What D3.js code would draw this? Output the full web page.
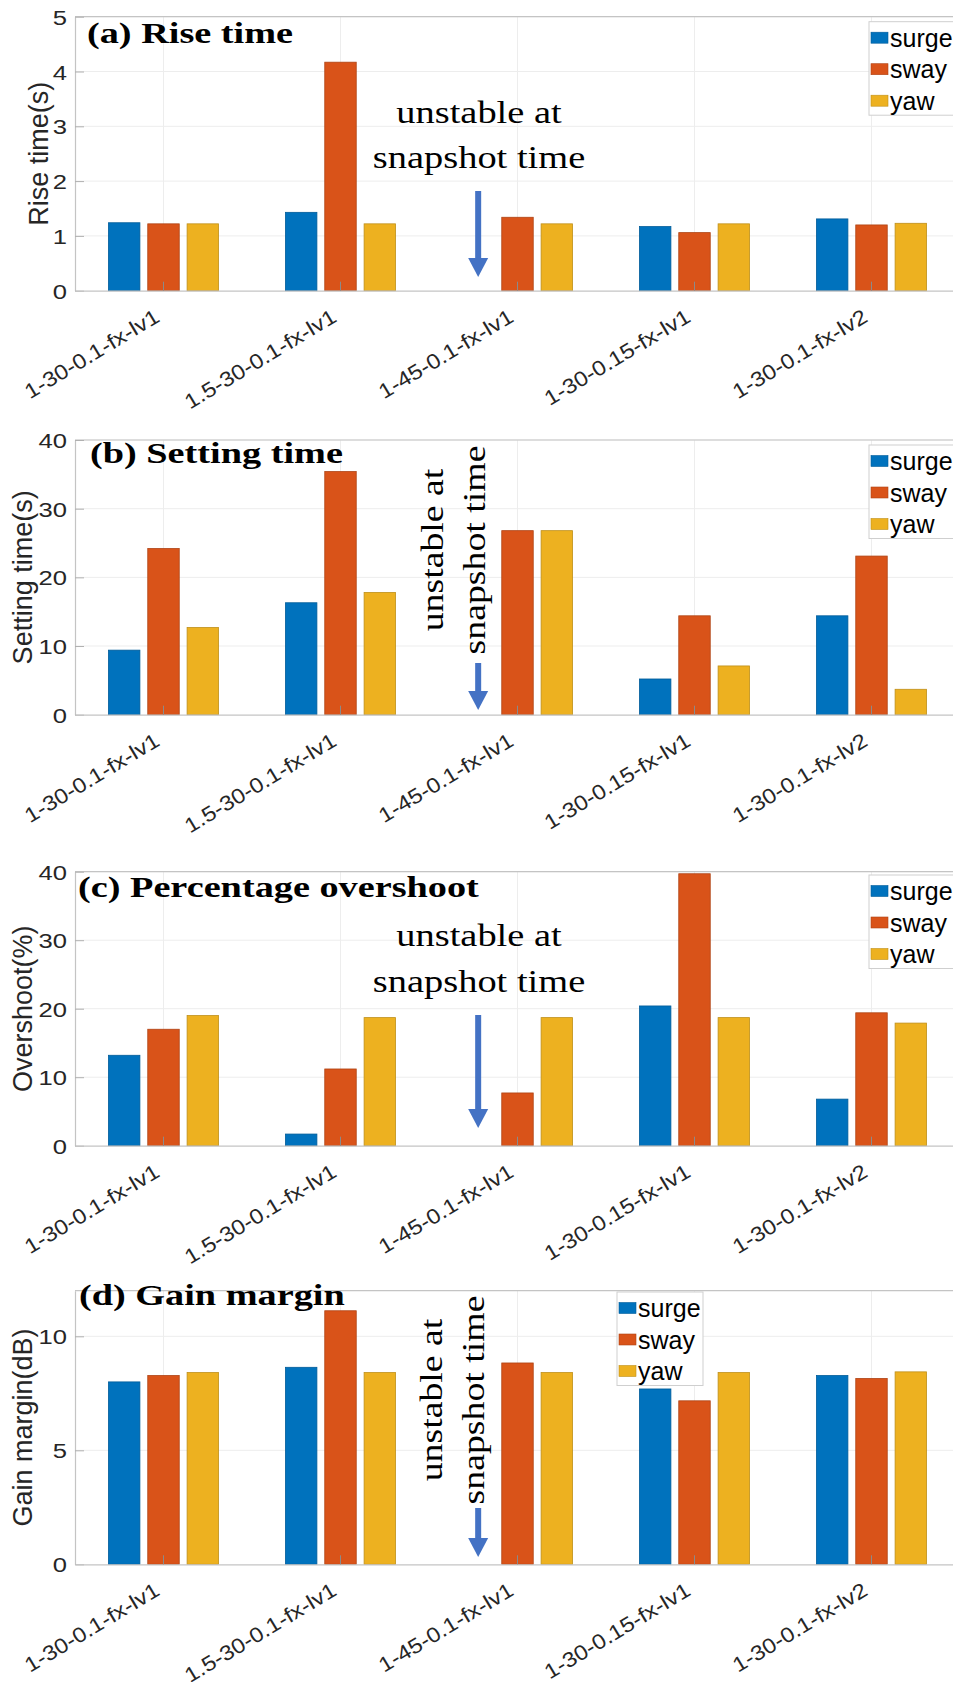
<!DOCTYPE html>
<html>
<head>
<meta charset="utf-8">
<script src="https://cdn.jsdelivr.net/npm/d3@7"></script>
<style>
  body { margin: 0; background: #fff; }
  svg { display: block; background: #fff; }
</style>
</head>
<body>
<svg id="chart" width="953" height="1682"></svg>
<script>
// categories (same for all four panels)
const categories = ["1-30-0.1-fx-lv1", "1.5-30-0.1-fx-lv1", "1-45-0.1-fx-lv1", "1-30-0.15-fx-lv1", "1-30-0.1-fx-lv2"];
const seriesNames = ["surge", "sway", "yaw"];
const seriesColors = ["#0072BD", "#D95319", "#EDB120"];

// (a) rise time, s   (null = unstable, no bar)
const riseSurge = [1.24, 1.43, null, 1.17, 1.31];
const riseSway  = [1.22, 4.17, 1.34, 1.06, 1.20];
const riseYaw   = [1.22, 1.22, 1.22, 1.22, 1.23];
const riseTicks = [0, 1, 2, 3, 4, 5];

// (b) setting time, s
const settleSurge = [9.4, 16.3, null, 5.2, 14.4];
const settleSway  = [24.2, 35.4, 26.8, 14.4, 23.1];
const settleYaw   = [12.7, 17.8, 26.8, 7.1, 3.7];
const settleTicks = [0, 10, 20, 30, 40];

// (c) percentage overshoot, %
const overSurge = [13.2, 1.7, null, 20.4, 6.8];
const overSway  = [17.0, 11.2, 7.7, 39.7, 19.4];
const overYaw   = [19.0, 18.7, 18.7, 18.7, 17.9];
const overTicks = [0, 10, 20, 30, 40];

// (d) gain margin, dB
const gainSurge = [8.0, 8.64, null, 7.69, 8.28];
const gainSway  = [8.28, 11.12, 8.83, 7.17, 8.15];
const gainYaw   = [8.41, 8.41, 8.41, 8.41, 8.44];
const gainTicks = [0, 5, 10];

const noteLines = ["unstable at", "snapshot time"];

const SANS = "'Liberation Sans', Arial, Helvetica, sans-serif";
const SERIF = "'Liberation Serif', 'Times New Roman', Times, serif";

// panel layout
const panels = [
    { title: "(a) Rise time", ylabel: "Rise time(s)", values: [riseSurge, riseSway, riseYaw],
      domain: [0, 5], ticks: riseTicks, top: 16.7, bottom: 290.7,
      titleX: 87, titleY: 43, ylabelX: 47.5, legendX: 869, legendY: 21.7,
      note: { vertical: false, cx: 479, y1: 122.7, y2: 168.3 }, arrow: { top: 191, tip: 277 } },
    { title: "(b) Setting time", ylabel: "Setting time(s)", values: [settleSurge, settleSway, settleYaw],
      domain: [0, 40], ticks: settleTicks, top: 440, bottom: 714.7,
      titleX: 90, titleY: 462.5, ylabelX: 31.5, legendX: 869, legendY: 445,
      note: { vertical: true, cy: 550, x1: 443, x2: 485 }, arrow: { top: 663, tip: 710 } },
    { title: "(c) Percentage overshoot", ylabel: "Overshoot(%)", values: [overSurge, overSway, overYaw],
      domain: [0, 40], ticks: overTicks, top: 871.7, bottom: 1145.7,
      titleX: 78, titleY: 897, ylabelX: 31.5, legendX: 869, legendY: 875,
      note: { vertical: false, cx: 479, y1: 946, y2: 991.7 }, arrow: { top: 1015, tip: 1128 } },
    { title: "(d) Gain margin", ylabel: "Gain margin(dB)", values: [gainSurge, gainSway, gainYaw],
      domain: [0, 12], ticks: gainTicks, top: 1290.7, bottom: 1564.3,
      titleX: 79, titleY: 1305, ylabelX: 31.5, legendX: 617, legendY: 1292,
      note: { vertical: true, cy: 1400, x1: 442, x2: 484 }, arrow: { top: 1508, tip: 1557 } }
];

const plotLeft = 75, plotRight = 960;

const svg = d3.select("#chart");

const x = d3.scaleBand().domain(categories).range([plotLeft, plotRight]);
const bw = x.bandwidth();
// grouped bars, like matlab bar(): width 0.8 of the group
const xSub = d3.scaleBand().domain(seriesNames)
    .range([bw * (0.5 - 1.5 * 0.2222), bw * (0.5 + 1.5 * 0.2222)])
    .paddingInner(0.2).paddingOuter(0.1);

panels.forEach(p => drawPanel(p));

function drawPanel(p) {
    const y = d3.scaleLinear().domain(p.domain).range([p.bottom, p.top]);
    const g = svg.append("g");

    // grid
    g.selectAll(".hgrid").data(p.ticks.slice(1)).enter().append("line")
        .attr("x1", plotLeft).attr("x2", plotRight)
        .attr("y1", d => y(d)).attr("y2", d => y(d))
        .attr("stroke", "#ededed").attr("stroke-width", 1);
    g.selectAll(".vgrid").data(categories).enter().append("line")
        .attr("x1", d => x(d) + bw / 2).attr("x2", d => x(d) + bw / 2)
        .attr("y1", p.top).attr("y2", p.bottom)
        .attr("stroke", "#ededed").attr("stroke-width", 1);

    // bars
    const rows = [];
    categories.forEach((c, i) => {
        seriesNames.forEach((s, k) => {
            if (p.values[k][i] != null) rows.push({ cat: c, name: s, k: k, v: p.values[k][i] });
        });
    });
    g.selectAll(".bar").data(rows).enter().append("rect")
        .attr("x", d => x(d.cat) + xSub(d.name))
        .attr("width", xSub.bandwidth())
        .attr("y", d => y(d.v))
        .attr("height", d => y(0) - y(d.v))
        .attr("fill", d => seriesColors[d.k])
        .attr("stroke", d => d3.color(seriesColors[d.k]).darker(0.6))
        .attr("stroke-width", 0.8);

    // top line of the box
    g.append("line").attr("x1", plotLeft).attr("x2", plotRight)
        .attr("y1", p.top).attr("y2", p.top)
        .attr("stroke", "#c4c4c4").attr("stroke-width", 1.2);

    // y axis
    const ay = g.append("g")
        .attr("transform", `translate(${plotLeft},0)`)
        .call(d3.axisLeft(y).tickValues(p.ticks).tickFormat(d3.format("d"))
            .tickSize(-9).tickSizeOuter(0));
    ay.select(".domain").attr("stroke", "#c4c4c4").attr("stroke-width", 1.2);
    ay.selectAll(".tick line").attr("stroke", "#b0b0b0");
    ay.selectAll(".tick text")
        .attr("font-family", SANS).attr("font-size", 21).attr("fill", "#262626")
        .attr("x", 0).attr("dy", "0.36em").attr("text-anchor", "end")
        .attr("transform", "translate(-8,0) scale(1.22,1)");

    // x axis
    const ax = g.append("g")
        .attr("transform", `translate(0,${p.bottom})`)
        .call(d3.axisBottom(x).tickSize(-9).tickSizeOuter(0));
    ax.select(".domain").attr("stroke", "#c4c4c4").attr("stroke-width", 1.2);
    ax.selectAll(".tick line").attr("stroke", "#8a8a8a");
    ax.selectAll(".tick text")
        .attr("font-family", SANS).attr("font-size", 21).attr("fill", "#262626")
        .attr("x", 0).attr("y", 0).attr("dy", 0)
        .attr("text-anchor", "end")
        .attr("transform", "translate(-2.5,30) rotate(-31) scale(1.13,1)");

    // y label
    g.append("text")
        .attr("transform", `translate(${p.ylabelX},${(p.top + p.bottom) / 2}) rotate(-90)`)
        .attr("text-anchor", "middle")
        .attr("font-family", SANS).attr("font-size", 27).attr("fill", "#262626")
        .text(p.ylabel);

    // title
    g.append("text")
        .attr("transform", `translate(${p.titleX},${p.titleY}) scale(1.32,1)`)
        .attr("font-family", SERIF).attr("font-weight", "bold").attr("font-size", 29)
        .attr("fill", "#000")
        .text(p.title);

    // note: unstable at snapshot time
    const n = p.note;
    noteLines.forEach((t, i) => {
        const tr = n.vertical
            ? `translate(${i === 0 ? n.x1 : n.x2},${n.cy}) rotate(-90) scale(1.22,1)`
            : `translate(${n.cx},${i === 0 ? n.y1 : n.y2}) scale(1.24,1)`;
        g.append("text")
            .attr("transform", tr)
            .attr("text-anchor", "middle")
            .attr("font-family", SERIF).attr("font-size", 31).attr("fill", "#000")
            .text(t);
    });

    // arrow pointing at the missing surge bar
    const axc = x(categories[2]) + xSub("surge") + xSub.bandwidth() / 2;
    const headLen = 19;
    g.append("rect")
        .attr("x", axc - 3).attr("width", 6)
        .attr("y", p.arrow.top).attr("height", p.arrow.tip - headLen - p.arrow.top + 1)
        .attr("fill", "#4472C4");
    g.append("path")
        .attr("d", `M${axc - 10},${p.arrow.tip - headLen} L${axc + 10},${p.arrow.tip - headLen} L${axc},${p.arrow.tip} Z`)
        .attr("fill", "#4472C4");

    // legend
    const lg = g.append("g").attr("transform", `translate(${p.legendX},${p.legendY})`);
    lg.append("rect")
        .attr("width", 86).attr("height", 93.5)
        .attr("fill", "#fff").attr("stroke", "#cfcfcf").attr("stroke-width", 1);
    seriesNames.forEach((s, i) => {
        const cy = 16 + 31.5 * i;
        lg.append("rect")
            .attr("x", 2).attr("y", cy - 5.5).attr("width", 17).attr("height", 11)
            .attr("fill", seriesColors[i])
            .attr("stroke", d3.color(seriesColors[i]).darker(0.6)).attr("stroke-width", 0.6);
        lg.append("text")
            .attr("x", 21).attr("y", cy + 9)
            .attr("font-family", SANS).attr("font-size", 25).attr("fill", "#000")
            .text(s);
    });
}
</script>
</body>
</html>
